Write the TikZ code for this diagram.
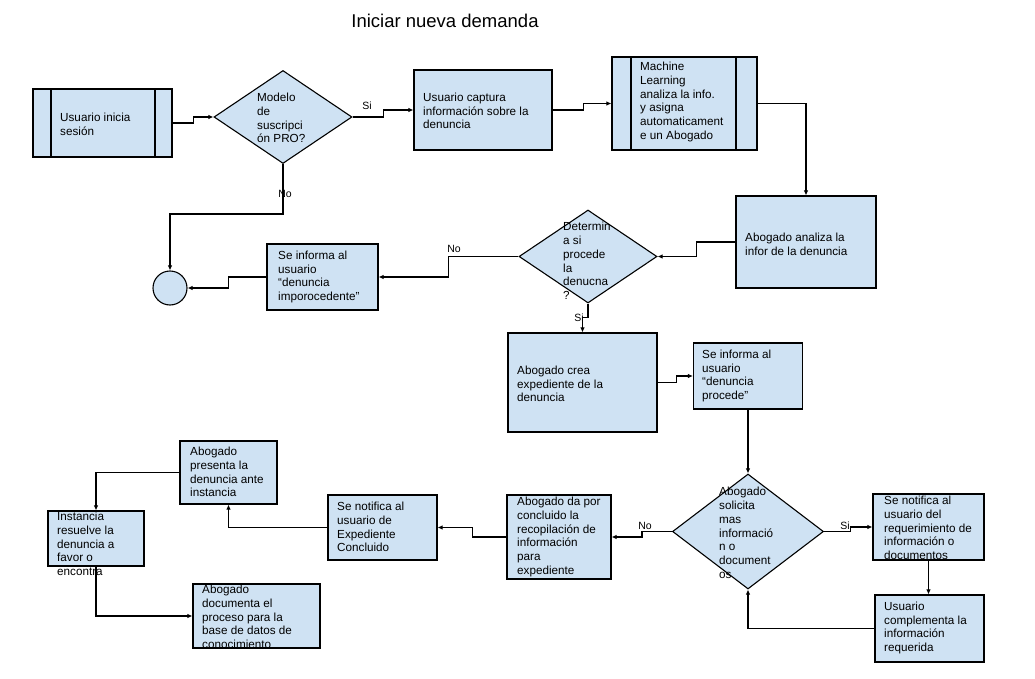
\documentclass[tikz,border=0pt]{standalone}
\usepackage{fontspec}
\setmainfont{Liberation Sans}
\usetikzlibrary{shapes.geometric,arrows.meta}
\definecolor{lb}{HTML}{CFE2F3}
\tikzset{
  box/.style={draw=black, fill=lb, line width=1.1pt, inner sep=0pt, rectangle},
  dia/.style={draw=black, fill=lb, line width=1.1pt, inner sep=0pt, diamond},
  txt/.style={inner sep=0pt, anchor=west, align=left, font=\fontsize{11.7}{13.8}\selectfont},
  lbl/.style={inner sep=0pt, font=\fontsize{10.5}{12}\selectfont},
  arr/.style={line width=1.1pt, -{Latex[length=5pt,width=4.5pt]}},
  ln/.style={line width=1.1pt},
}
\begin{document}
\begin{tikzpicture}[x=1pt,y=-1pt]
\useasboundingbox (0,0) rectangle (1035,679);
\fill[white] (0,0) rectangle (1035,679);

\node[inner sep=0pt, anchor=base, font=\fontsize{18.5}{22}\selectfont] (title) at (445,28) {Iniciar nueva demanda};

% boxes
\node[box, minimum width=139pt, minimum height=68pt] (A) at (102.5,123) {};
\draw[ln] (51,89) -- (51,157) (155,89) -- (155,157);
\node[dia, minimum width=138pt, minimum height=93pt] (D1) at (283,117) {};
\node[box, minimum width=138pt, minimum height=80pt] (B) at (483,110) {};
\node[box, minimum width=145pt, minimum height=93pt] (C) at (684.5,103.5) {};
\draw[ln] (631,57) -- (631,150) (736,57) -- (736,150);
\node[box, minimum width=140pt, minimum height=92pt] (E) at (806,242) {};
\node[dia, minimum width=138pt, minimum height=93pt] (D2) at (588,256.5) {};
\node[box, minimum width=111pt, minimum height=66pt] (Inf) at (322.5,277) {};
\node[draw=black, fill=lb, line width=1.1pt, circle, inner sep=0pt, minimum size=34pt] (circ) at (170,288) {};
\node[box, minimum width=149pt, minimum height=99pt] (Crea) at (582.5,382.5) {};
\node[box, minimum width=109pt, minimum height=66pt] (Proc) at (748,376) {};
\node[dia, minimum width=151pt, minimum height=115pt] (D3) at (748,531.5) {};
\node[box, minimum width=111pt, minimum height=66pt] (Req) at (928.5,527) {};
\node[box, minimum width=109pt, minimum height=67pt] (Comp) at (929.5,628.5) {};
\node[box, minimum width=104pt, minimum height=84pt] (Concl) at (559,537) {};
\node[box, minimum width=109pt, minimum height=65pt] (Exp) at (382.5,527.5) {};
\node[box, minimum width=97pt, minimum height=63pt] (Pres) at (228.5,472.5) {};
\node[box, minimum width=96pt, minimum height=55pt] (Inst) at (96,538.5) {};
\node[box, minimum width=127pt, minimum height=64pt] (Doc) at (256.5,616) {};

% texts
\node[txt] (tA) at (60,124) {Usuario inicia\\sesión};
\node[txt] (tD1) at (257,118) {Modelo\\de\\suscripci\\ón PRO?};
\node[txt] (tB) at (423,111) {Usuario captura\\información sobre la\\denuncia};
\node[txt] (tC) at (640,102) {Machine\\Learning\\analiza la info.\\y asigna\\automaticament\\e un Abogado};
\node[txt] (tE) at (745,244) {Abogado analiza la\\infor de la denuncia};
\node[txt] (tD2) at (563,261) {Determin\\a si\\procede\\la\\denucna\\?};
\node[txt] (tInf) at (278,277) {Se informa al\\usuario\\“denuncia\\imporocedente”};
\node[txt] (tCrea) at (517,384) {Abogado crea\\expediente de la\\denuncia};
\node[txt] (tProc) at (702,376) {Se informa al\\usuario\\“denuncia\\procede”};
\node[txt] (tD3) at (719,533) {Abogado\\solicita\\mas\\informació\\n o\\document\\os};
\node[txt] (tReq) at (884,528) {Se notifica al\\usuario del\\requerimiento de\\información o\\documentos};
\node[txt] (tComp) at (884,628) {Usuario\\complementa la\\información\\requerida};
\node[txt] (tConcl) at (517,537) {Abogado da por\\concluido la\\recopilación de\\información\\para\\expediente};
\node[txt] (tExp) at (337,527) {Se notifica al\\usuario de\\Expediente\\Concluido};
\node[txt] (tPres) at (190,472) {Abogado\\presenta la\\denuncia ante\\instancia};
\node[txt] (tInst) at (57,544) {Instancia\\resuelve la\\denuncia a\\favor o\\encontra};
\node[txt] (tDoc) at (202,617) {Abogado\\documenta el\\proceso para la\\base de datos de\\conocimiento};

% connectors
\draw[arr] (A.east) -- ++(21,0) |- (D1.west);
\draw[arr] (D1.east) -- ++(31,0) |- (B.west);
\draw[arr] (B.east) -- ++(31,0) |- (C.west);
\draw[arr] (C.east) -| (E.north);
\draw[arr] (E.west) -- ++(-39,0) |- (D2.east);
\draw[arr] (D2.west) -- ++(-70,0) |- (Inf.east);
\draw[arr] (Inf.west) -- ++(-38,0) |- (circ.east);
\draw[arr] (D1.south) -- (283,214) -| (circ.north);
\draw[arr] (D2.south) -- ++(0,14) -| (Crea.north);
\draw[arr] (Crea.east) -- ++(19,0) |- (Proc.west);
\draw[arr] (Proc.south) -- (D3.north);
\draw[arr] (D3.east) -- ++(26,0) |- (Req.west);
\draw[arr] (Req.south) -- (Req.south |- Comp.north);
\draw[arr] (Comp.west) -| (D3.south);
\draw[arr] (D3.west) -- ++(-30,0) |- (Concl.east);
\draw[arr] (Concl.west) -- ++(-34,0) |- (Exp.east);
\draw[arr] (Exp.west) -| (Pres.south);
\draw[arr] (Pres.west) -| (Inst.north);
\draw[arr] (Inst.south) |- (Doc.west);

% labels
\node[lbl] (l1) at (367,106) {Si};
\node[lbl] (l2) at (285,194) {No};
\node[lbl] (l3) at (454,249) {No};
\node[lbl] (l4) at (579,318) {Si};
\node[lbl] (l5) at (845,526) {Si};
\node[lbl] (l6) at (645,526) {No};
\end{tikzpicture}
\end{document}
